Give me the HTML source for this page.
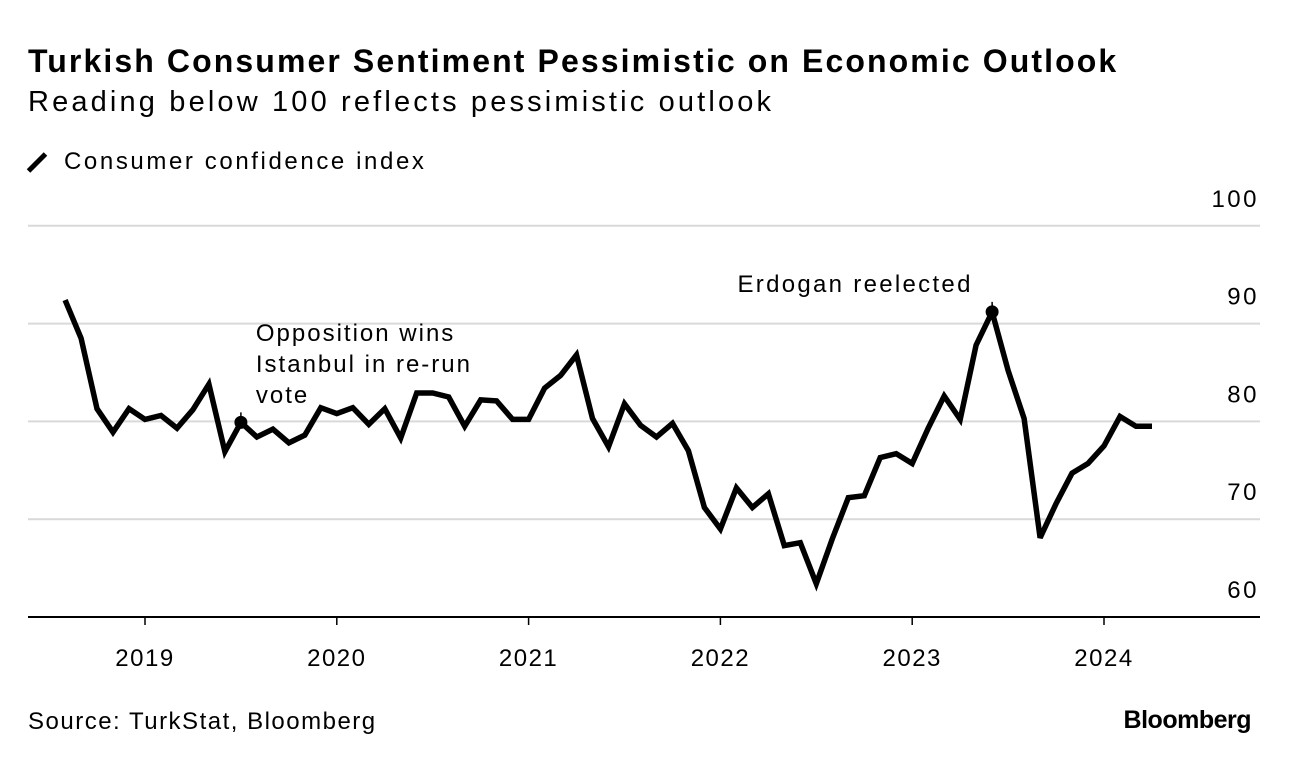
<!DOCTYPE html>
<html><head><meta charset="utf-8">
<style>
body{margin:0;background:#fff;font-family:"Liberation Sans",sans-serif;color:#000}
.wrap{position:relative;width:1289px;height:766px;overflow:hidden}
.t{position:absolute;white-space:nowrap}
</style></head>
<body>
<div class="wrap">
<div class="t" style="left:28px;top:43px;font-size:32px;font-weight:bold;letter-spacing:2.1px">Turkish Consumer Sentiment Pessimistic on Economic Outlook</div>
<div class="t" style="left:28px;top:86px;font-size:29px;letter-spacing:3.15px">Reading below 100 reflects pessimistic outlook</div>
<div class="t" style="left:28px;top:148px;font-size:24px;letter-spacing:2.6px"><span style="display:inline-block;width:24px;height:5px;background:#000;transform:rotate(-45deg);vertical-align:middle;margin-right:15px;margin-left:-3px"></span>Consumer confidence index</div>
<svg id="chart" width="1289" height="766" style="position:absolute;left:0;top:0"></svg>
<div class="t" style="left:28px;top:708px;font-size:24px;letter-spacing:1.5px">Source: TurkStat, Bloomberg</div>
<div class="t" style="right:38px;top:706px;font-size:25px;font-weight:bold;letter-spacing:-0.5px">Bloomberg</div>
</div>
<script>
const startYear=2018, startMonth=7; // Aug 2018 (0-based month)
const values=[92.4,88.5,81.3,78.9,81.3,80.2,80.6,79.3,81.2,83.8,76.9,79.9,78.4,79.2,77.8,78.6,81.4,80.8,81.4,79.7,81.3,78.3,82.9,82.9,82.5,79.5,82.2,82.1,80.2,80.2,83.4,84.7,86.8,80.3,77.4,81.8,79.6,78.4,79.8,77.0,71.2,69.0,73.2,71.2,72.6,67.3,67.6,63.4,68.0,72.2,72.4,76.3,76.7,75.7,79.3,82.6,80.2,87.8,91.2,85.2,80.3,68.1,71.6,74.7,75.7,77.5,80.5,79.5,79.5];
const yTicks=[60,70,80,90,100];
const xYears=[2019,2020,2021,2022,2023,2024];
const annotations=[{idx:11,lines:["Opposition wins","Istanbul in re-run","vote"]},{idx:58,lines:["Erdogan reelected"]}];
const NS="http://www.w3.org/2000/svg";
const svg=document.getElementById('chart');
const FF='Liberation Sans, sans-serif';
function xs(m){return 145+m*(191.8/12);}
function ys(v){return 617-(v-60)*9.78;}
function mk(tag,attrs){const e=document.createElementNS(NS,tag);for(const k in attrs)e.setAttribute(k,attrs[k]);svg.appendChild(e);return e;}
yTicks.forEach(v=>{
  if(v>60){const l=mk('line',{x1:28,x2:1260,y1:ys(v),y2:ys(v),stroke:'#d9d9d9','stroke-width':2});
  
  }
  const t=mk('text',{x:1259,y:ys(v)-19,'text-anchor':'end','font-size':24,'letter-spacing':2.5,'font-family':FF});
  t.textContent=v;
  
  
});
const ax=mk('line',{x1:28,x2:1260,y1:617,y2:617,stroke:'#000','stroke-width':2});


xYears.forEach(yr=>{
  const x=xs((yr-2019)*12);
  const tk=mk('line',{x1:x,x2:x,y1:617,y2:625,stroke:'#000','stroke-width':1.5});
  
  
  const t=mk('text',{x:x,y:666,'text-anchor':'middle','font-size':24,'letter-spacing':1.5,'font-family':FF});
  t.textContent=yr;
  
  
});
function mOf(i){return (startYear-2019)*12+startMonth+i;}
const pts=values.map((v,i)=>xs(mOf(i)).toFixed(1)+','+ys(v).toFixed(1)).join(' ');
const pl=mk('polyline',{points:pts,fill:'none',stroke:'#000','stroke-width':5.5,'stroke-linejoin':'miter','stroke-miterlimit':3});


annotations.forEach((a,k)=>{
  const x=xs(mOf(a.idx)), y=ys(values[a.idx]);
  const s=mk('line',{x1:x,x2:x,y1:y,y2:y-10,stroke:'#000','stroke-width':1.5});
  
  
  const c=mk('circle',{cx:x,cy:y,r:6.5,fill:'#000'});
  
  
  a.lines.forEach((ln,j)=>{
    const t=k===0?mk('text',{x:x+15,y:341+j*31,'font-size':24,'letter-spacing':2,'font-family':FF})
                 :mk('text',{x:x-137,y:292,'text-anchor':'middle','font-size':24,'letter-spacing':2.3,'font-family':FF});
    t.textContent=ln;
    
    
  });
});
</script>
</body></html>
